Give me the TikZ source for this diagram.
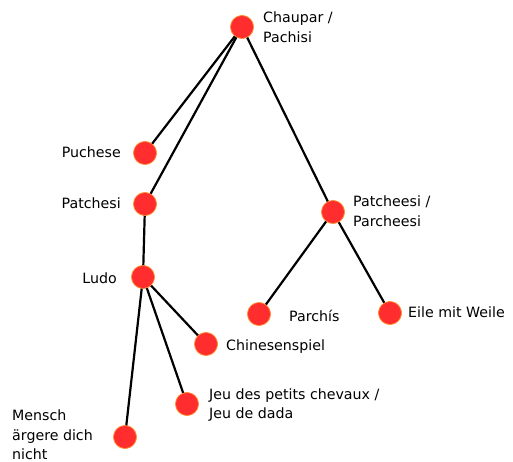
\documentclass[tikz,border=0pt]{standalone}
\usepackage{fontspec}
\setmainfont{DejaVu Sans}
\definecolor{dotred}{HTML}{FF2D2D}
\definecolor{dotedge}{HTML}{FF9A3C}
\begin{document}
\begin{tikzpicture}[x=1pt,y=-1pt,
  dot/.style={circle,fill=dotred,draw=dotedge,line width=0.6pt,minimum size=23pt,inner sep=0pt},
  lbl/.style={font=\fontsize{14.2}{19.5}\selectfont,inner sep=0pt,align=left},
  edge/.style={line width=2.2pt,black}]
\useasboundingbox (0,0) rectangle (513,462);
\node[dot] (chaupar) at (242,27) {};
\node[dot] (puchese) at (145,153) {};
\node[dot] (patchesi) at (145,204) {};
\node[dot] (ludo) at (143,277) {};
\node[dot] (chin) at (206,344) {};
\node[dot] (jeu) at (187,404) {};
\node[dot] (mensch) at (125,437) {};
\node[dot] (patcheesi) at (333,212) {};
\node[dot] (parchis) at (259,314) {};
\node[dot] (eile) at (390,313) {};
\node[lbl,anchor=west] (lchaupar) at (263,27) {Chaupar /\\Pachisi};
\node[lbl,anchor=east] (lpuchese) at (121,152) {Puchese};
\node[lbl,anchor=east] (lpatchesi) at (121,203) {Patchesi};
\node[lbl,anchor=east] (lludo) at (117,278) {Ludo};
\node[lbl,anchor=west] (lchin) at (226,347) {Chinesenspiel};
\node[lbl,anchor=west] (ljeu) at (209,405) {Jeu des petits chevaux /\\Jeu de dada};
\node[lbl,anchor=west] (lmensch) at (12,435) {Mensch\\ärgere dich\\nicht};
\node[lbl,anchor=west] (lpatcheesi) at (353,211) {Patcheesi /\\Parcheesi};
\node[lbl,anchor=west] (lparchis) at (289,316) {Parchís};
\node[lbl,anchor=west] (leile) at (408,312) {Eile mit Weile};
\begin{scope}[edge]
\draw (chaupar.center) -- (puchese.center);
\draw (chaupar.center) -- (patchesi.center);
\draw (chaupar.center) -- (patcheesi.center);
\draw (patchesi.center) -- (ludo.center);
\draw (ludo.center) -- (chin.center);
\draw (ludo.center) -- (jeu.center);
\draw (ludo.center) -- (mensch.center);
\draw (patcheesi.center) -- (parchis.center);
\draw (patcheesi.center) -- (eile.center);
\end{scope}
\foreach \n in {chaupar,puchese,patchesi,ludo,chin,jeu,mensch,patcheesi,parchis,eile}
  \node[dot] at (\n) {};
\end{tikzpicture}
\end{document}
